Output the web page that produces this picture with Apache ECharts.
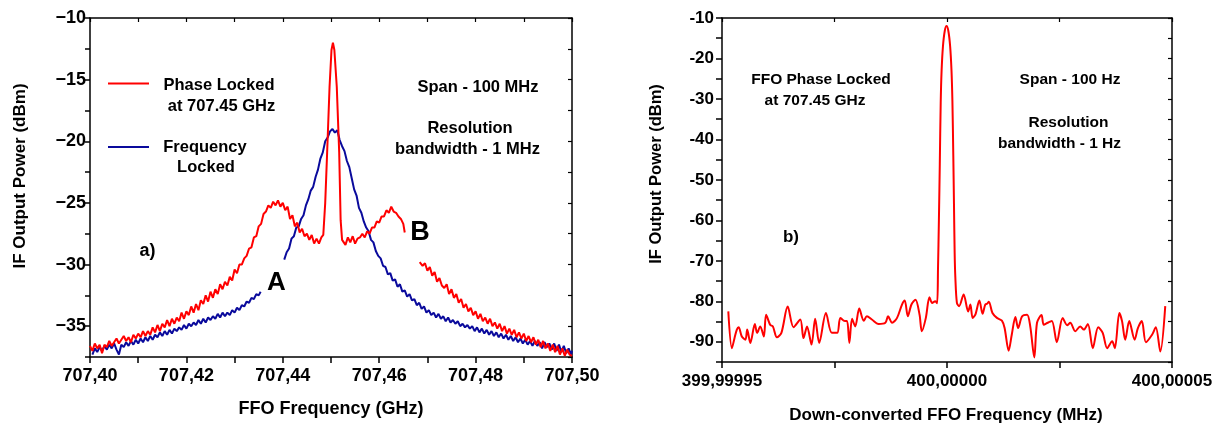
<!DOCTYPE html>
<html>
<head>
<meta charset="utf-8">
<script src="https://cdn.jsdelivr.net/npm/echarts@6/dist/echarts.min.js"></script>
<style>
html,body{margin:0;padding:0;background:#fff;}
#chart{width:1226px;height:425px;}
</style>
</head>
<body>
<div id="chart"></div>
<script>
// ---- Panel a) : FFO frequency (GHz) vs IF output power (dBm)
const phaseLockedA = [
 [707.4000,-36.6],[707.4005,-37.0],[707.4010,-36.4],[707.4015,-36.8],[707.4020,-36.5],[707.4025,-37.2],[707.4030,-36.5],[707.4035,-36.7],[707.4040,-36.2],[707.4045,-36.6],
 [707.4050,-36.3],[707.4055,-36.0],[707.4060,-36.4],[707.4065,-36.1],[707.4070,-35.8],[707.4075,-36.2],[707.4080,-35.9],[707.4085,-36.3],[707.4090,-35.7],[707.4095,-36.0],
 [707.4100,-35.6],[707.4105,-35.9],[707.4110,-35.4],[707.4115,-35.8],[707.4120,-35.4],[707.4125,-35.7],[707.4130,-35.1],[707.4135,-35.5],[707.4140,-34.9],[707.4145,-35.4],
 [707.4150,-34.8],[707.4155,-35.1],[707.4160,-34.5],[707.4165,-35.0],[707.4170,-34.4],[707.4175,-34.8],[707.4180,-34.3],[707.4185,-34.6],[707.4190,-33.9],[707.4195,-34.4],
 [707.4200,-33.8],[707.4205,-34.1],[707.4210,-33.4],[707.4215,-33.9],[707.4220,-33.2],[707.4225,-33.7],[707.4230,-32.9],[707.4235,-33.2],[707.4240,-32.5],[707.4245,-33.0],
 [707.4250,-32.2],[707.4255,-32.7],[707.4260,-32.0],[707.4265,-32.4],[707.4270,-31.6],[707.4275,-32.0],[707.4280,-31.4],[707.4285,-31.7],[707.4290,-31.0],[707.4295,-31.3],
 [707.4300,-30.4],[707.4305,-30.7],[707.4310,-30.0],[707.4315,-30.0],[707.4320,-29.5],[707.4325,-29.3],[707.4330,-28.7],[707.4335,-28.6],[707.4340,-27.8],[707.4345,-27.7],
 [707.4350,-26.9],[707.4355,-26.7],[707.4360,-25.9],[707.4365,-25.7],[707.4370,-25.2],[707.4375,-25.4],[707.4380,-24.9],[707.4385,-25.2],[707.4390,-24.8],[707.4395,-25.3],
 [707.4400,-25.0],[707.4405,-25.6],[707.4410,-25.3],[707.4415,-26.3],[707.4420,-26.0],[707.4425,-26.9],[707.4430,-26.6],[707.4435,-27.4],[707.4440,-27.1],[707.4445,-27.7],
 [707.4450,-27.5],[707.4455,-28.0],[707.4460,-27.6],[707.4465,-28.3],[707.4470,-27.9],[707.4475,-28.3],[707.4480,-27.8],
 [707.4484,-27.6],[707.4488,-25.0],[707.4492,-20.9],[707.4497,-15.6],[707.4501,-12.6],[707.4504,-12.0],[707.4507,-12.6],[707.4512,-15.6],[707.4517,-20.9],[707.4520,-26.4],[707.4523,-28.0],
 [707.4525,-28.0],[707.4530,-28.4],[707.4535,-27.8],[707.4540,-28.2],[707.4545,-27.7],[707.4550,-28.3],[707.4555,-27.9],[707.4560,-27.8],[707.4565,-27.5],[707.4570,-27.8],
 [707.4575,-27.3],[707.4580,-27.5],[707.4585,-27.0],[707.4590,-27.0],[707.4595,-26.5],[707.4600,-26.6],[707.4605,-26.1],[707.4610,-26.1],[707.4615,-25.6],[707.4620,-25.8],
 [707.4625,-25.3],[707.4630,-25.7],[707.4635,-25.8],[707.4640,-26.1],[707.4645,-26.3],[707.4650,-26.7],[707.4653,-27.4],[707.4670,null],
 [707.4684,-29.8],[707.4690,-30.1],[707.4695,-29.9],[707.4700,-30.5],[707.4705,-30.2],[707.4710,-30.9],[707.4715,-30.6],[707.4720,-31.4],[707.4725,-31.1],[707.4730,-31.7],
 [707.4735,-31.9],[707.4740,-31.6],[707.4745,-32.4],[707.4750,-32.0],[707.4755,-32.7],[707.4760,-32.4],[707.4765,-33.1],[707.4770,-32.8],[707.4775,-33.5],[707.4780,-33.2],
 [707.4785,-33.8],[707.4790,-33.5],[707.4795,-34.1],[707.4800,-33.8],[707.4805,-34.4],[707.4810,-34.0],[707.4815,-34.6],[707.4820,-34.3],[707.4825,-34.8],[707.4830,-34.4],
 [707.4835,-35.0],[707.4840,-34.7],[707.4845,-35.2],[707.4850,-34.8],[707.4855,-35.4],[707.4860,-35.0],[707.4865,-35.6],[707.4870,-35.2],[707.4875,-35.7],[707.4880,-35.3],
 [707.4885,-35.9],[707.4890,-35.5],[707.4895,-36.0],[707.4900,-35.6],[707.4905,-36.2],[707.4910,-35.8],[707.4915,-36.3],[707.4920,-35.9],[707.4925,-36.5],[707.4930,-36.1],
 [707.4935,-36.7],[707.4940,-36.2],[707.4945,-36.8],[707.4950,-36.4],[707.4955,-37.0],[707.4960,-36.5],[707.4965,-37.1],[707.4970,-36.6],[707.4975,-37.3],[707.4980,-36.8],
 [707.4985,-37.4],[707.4990,-36.9],[707.4995,-37.3],[707.5000,-37.4]
];
const frequencyLockedA = [
 [707.4005,-37.3],[707.4010,-36.8],[707.4015,-37.1],[707.4020,-36.7],[707.4025,-37.0],[707.4030,-36.6],[707.4035,-36.9],[707.4040,-36.5],[707.4045,-36.8],[707.4050,-36.4],
 [707.4055,-36.9],[707.4060,-37.3],[707.4065,-36.5],[707.4070,-36.7],[707.4075,-36.3],[707.4080,-36.6],[707.4085,-36.2],[707.4090,-36.5],[707.4095,-36.1],[707.4100,-36.4],
 [707.4105,-36.0],[707.4110,-36.3],[707.4115,-35.9],[707.4120,-36.2],[707.4125,-35.8],[707.4130,-36.1],[707.4135,-35.7],[707.4140,-35.9],[707.4145,-35.5],[707.4150,-35.8],
 [707.4155,-35.4],[707.4160,-35.7],[707.4165,-35.3],[707.4170,-35.6],[707.4175,-35.2],[707.4180,-35.4],[707.4185,-35.1],[707.4190,-35.3],[707.4195,-34.9],[707.4200,-35.2],
 [707.4205,-34.8],[707.4210,-35.0],[707.4215,-34.7],[707.4220,-34.9],[707.4225,-34.5],[707.4230,-34.8],[707.4235,-34.4],[707.4240,-34.7],[707.4245,-34.3],[707.4250,-34.5],
 [707.4255,-34.2],[707.4260,-34.4],[707.4265,-34.0],[707.4270,-34.3],[707.4275,-33.9],[707.4280,-34.2],[707.4285,-33.9],[707.4290,-34.1],[707.4295,-33.7],[707.4300,-33.9],
 [707.4305,-33.5],[707.4310,-33.7],[707.4315,-33.3],[707.4320,-33.4],[707.4325,-33.0],[707.4330,-33.1],[707.4335,-32.7],[707.4340,-32.8],[707.4345,-32.4],[707.4350,-32.5],
 [707.4354,-32.2],[707.4370,null],
 [707.4403,-29.6],[707.4408,-29.0],[707.4413,-28.7],[707.4418,-27.9],[707.4423,-27.7],[707.4428,-27.0],[707.4433,-26.9],[707.4438,-26.3],[707.4443,-26.0],[707.4448,-25.2],
 [707.4453,-24.7],[707.4458,-24.0],[707.4463,-23.7],[707.4468,-22.9],[707.4473,-22.3],[707.4478,-21.4],[707.4483,-20.9],[707.4488,-20.0],[707.4493,-19.7],[707.4498,-19.2],
 [707.4503,-19.0],[707.4508,-19.3],[707.4513,-19.1],[707.4518,-19.9],[707.4523,-20.4],[707.4528,-20.8],[707.4533,-21.6],[707.4538,-22.1],[707.4543,-23.0],[707.4548,-23.9],
 [707.4553,-24.4],[707.4558,-25.4],[707.4563,-25.8],[707.4568,-26.5],[707.4573,-27.0],[707.4578,-27.3],[707.4583,-28.0],[707.4588,-28.2],[707.4593,-28.9],[707.4598,-29.3],
 [707.4603,-29.5],[707.4608,-30.1],[707.4613,-30.2],[707.4618,-30.8],[707.4623,-30.7],[707.4628,-31.3],[707.4633,-31.2],[707.4638,-31.8],[707.4643,-31.6],[707.4648,-32.2],
 [707.4653,-32.1],[707.4658,-32.6],[707.4663,-32.4],[707.4668,-32.9],[707.4673,-32.8],[707.4678,-33.3],[707.4683,-33.1],[707.4688,-33.6],[707.4693,-33.4],[707.4698,-33.9],
 [707.4703,-33.7],[707.4708,-34.1],[707.4713,-33.9],[707.4718,-34.3],[707.4723,-34.0],[707.4728,-34.4],[707.4733,-34.2],[707.4738,-34.6],[707.4743,-34.3],[707.4748,-34.7],
 [707.4753,-34.5],[707.4758,-34.8],[707.4763,-34.6],[707.4768,-35.0],[707.4773,-34.8],[707.4778,-35.1],[707.4783,-34.9],[707.4788,-35.2],[707.4793,-35.0],[707.4798,-35.4],
 [707.4803,-35.1],[707.4808,-35.5],[707.4813,-35.2],[707.4818,-35.6],[707.4823,-35.3],[707.4828,-35.7],[707.4833,-35.4],[707.4838,-35.8],[707.4843,-35.5],[707.4848,-35.9],
 [707.4853,-35.6],[707.4858,-36.0],[707.4863,-35.7],[707.4868,-36.1],[707.4873,-35.8],[707.4878,-36.2],[707.4883,-35.9],[707.4888,-36.3],[707.4893,-36.0],[707.4898,-36.4],
 [707.4903,-36.1],[707.4908,-36.5],[707.4913,-36.2],[707.4918,-36.6],[707.4923,-36.2],[707.4928,-36.6],[707.4933,-36.3],[707.4938,-36.8],[707.4943,-36.3],[707.4948,-36.7],
 [707.4953,-36.4],[707.4958,-36.9],[707.4963,-36.4],[707.4968,-37.0],[707.4973,-36.5],[707.4978,-37.1],[707.4983,-36.6],[707.4988,-37.2],[707.4993,-36.8],[707.4998,-37.3],
 [707.5000,-37.0]
];
const xTickLabelsA = ['707,40','707,42','707,44','707,46','707,48','707,50'];

// ---- Panel b) : offset from 400 MHz (Hz) vs IF output power (dBm)
const phaseLockedB = [
 [-48.6,-82.5],[-47.8,-91.6],[-47.2,-89.0],[-46.7,-87.0],[-46.3,-86.4],[-45.6,-88.7],[-44.8,-89.5],[-44.4,-87.0],[-43.7,-90.3],[-42.7,-85.6],
 [-42.2,-87.8],[-41.5,-86.2],[-40.7,-88.7],[-40.2,-83.3],[-39.3,-85.8],[-38.7,-86.2],[-37.8,-88.9],[-36.8,-87.8],[-35.4,-81.3],[-34.1,-86.4],
 [-32.6,-84.5],[-31.9,-89.1],[-31.1,-86.2],[-30.1,-90.7],[-29.3,-84.3],[-28.4,-90.3],[-26.9,-82.9],[-25.6,-87.8],[-24.4,-87.8],[-23.7,-84.1],
 [-22.7,-84.9],[-22.2,-84.9],[-21.7,-90.3],[-21.1,-84.3],[-20.4,-86.2],[-19.5,-81.8],[-18.5,-84.8],[-17.8,-83.7],[-16.7,-84.5],[-15.2,-85.6],
 [-13.7,-85.3],[-13.1,-83.7],[-12.2,-85.3],[-11.1,-84.1],[-10.0,-80.8],[-9.4,-79.8],[-8.7,-83.7],[-7.9,-80.8],[-7.0,-79.6],[-6.1,-83.3],
 [-5.6,-87.4],[-4.7,-84.1],[-3.9,-79.0],[-3.3,-80.4],[-2.6,-80.0],[-2.2,-80.5],
 [-2.0,-72],[-1.8,-60],[-1.6,-46],[-1.4,-31],[-1.2,-23],[-0.9,-17],[-0.5,-13.2],[-0.1,-12.0],[0.3,-13.2],[0.7,-17],[1.0,-23],[1.2,-30.5],[1.4,-44],[1.55,-56],[1.7,-68],[1.85,-74],
 [2.2,-80.4],[2.7,-81.2],[3.7,-78.3],[4.7,-82.5],[5.2,-80.8],[5.7,-84.1],[6.3,-83.3],[7.2,-79.8],[7.9,-83.1],[8.5,-80.8],
 [8.9,-80.6],[9.3,-80.1],[10.1,-82.9],[11.1,-84.1],[12.2,-84.8],[12.8,-86.6],[13.7,-92.2],[14.4,-88.2],[15.2,-83.9],[15.8,-86.6],
 [16.7,-83.7],[17.8,-83.3],[18.5,-86.2],[19.4,-93.9],[20.0,-85.3],[21.0,-83.4],[21.5,-85.8],[22.4,-85.3],[23.3,-84.9],[24.4,-90.1],
 [25.7,-84.1],[26.7,-85.9],[27.4,-85.3],[28.5,-87.4],[29.6,-86.2],[30.4,-87.0],[31.3,-85.6],[32.4,-91.6],[33.6,-86.4],[34.6,-87.8],
 [35.6,-91.6],[36.7,-89.9],[37.3,-91.6],[38.3,-82.9],[38.9,-84.9],[39.6,-89.5],[40.5,-84.9],[41.7,-89.5],[42.4,-86.7],[43.3,-84.9],
 [44.2,-90.1],[45.6,-88.2],[46.4,-86.4],[47.4,-92.4],[48.5,-81.2]
];
const xTickLabelsB = ['399,99995','400,00000','400,00005'];

const FONT = '"Liberation Sans", Arial, Helvetica, sans-serif';
const RED = '#ff0000';
const BLUE = '#0a0a9c';

function axisLineStyle(){ return {show:true, onZero:false, lineStyle:{color:'#000', width:1.5}}; }

const chart = echarts.init(document.getElementById('chart'), null, {renderer:'canvas'});

function txt(text, x, y, size, opts){
  opts = opts || {};
  return {
    type:'text', x:x, y:y, rotation: opts.rotation || 0, silent:true,
    style:{
      text:text, x:0, y:0, fill:'#000',
      font:'bold ' + size + 'px ' + FONT,
      textAlign: opts.align || 'center', align: opts.align || 'center',
      textVerticalAlign:'middle', verticalAlign:'middle'
    }
  };
}

const option = {
  animation:false,
  backgroundColor:'#fff',
  grid:[
    {left:90, top:18, width:482, height:339, containLabel:false},
    {left:722, top:18, width:450, height:344, containLabel:false}
  ],
  xAxis:[
    { gridIndex:0, type:'value', min:707.40, max:707.50, interval:0.01, position:'bottom',
      axisLine:axisLineStyle(), splitLine:{show:false},
      axisTick:{show:true, inside:false, length:6, lineStyle:{color:'#000', width:1.5}},
      axisLabel:{ margin:10, color:'#000', fontFamily:FONT, fontWeight:'bold', fontSize:18,
        showMinLabel:true, showMaxLabel:true,
        formatter:function(v){ const i=Math.round((v-707.40)/0.01); return i%2===0 ? xTickLabelsA[i/2] : ''; } } },
    { gridIndex:0, type:'value', min:707.40, max:707.50, interval:0.01, position:'top',
      axisLine:axisLineStyle(), splitLine:{show:false},
      axisTick:{show:true, inside:true, length:4, lineStyle:{color:'#000', width:1.2}},
      axisLabel:{show:false} },
    { gridIndex:1, type:'value', min:-50, max:50, interval:25, position:'bottom',
      axisLine:axisLineStyle(), splitLine:{show:false},
      axisTick:{show:true, inside:false, length:6, lineStyle:{color:'#000', width:1.5}},
      axisLabel:{ margin:11, color:'#000', fontFamily:FONT, fontWeight:'bold', fontSize:17,
        showMinLabel:true, showMaxLabel:true,
        formatter:function(v){ const i=Math.round((v+50)/25); return i%2===0 ? xTickLabelsB[i/2] : ''; } } },
    { gridIndex:1, type:'value', min:-50, max:50, interval:25, position:'top',
      axisLine:axisLineStyle(), splitLine:{show:false},
      axisTick:{show:true, inside:true, length:4, lineStyle:{color:'#000', width:1.2}},
      axisLabel:{show:false} }
  ],
  yAxis:[
    { gridIndex:0, type:'value', min:-37.5, max:-10, interval:2.5, position:'left',
      axisLine:axisLineStyle(), splitLine:{show:false},
      axisTick:{show:true, inside:false, length:5, lineStyle:{color:'#000', width:1.5}},
      axisLabel:{ margin:4, color:'#000', fontFamily:FONT, fontWeight:'bold', fontSize:18,
        formatter:function(v){ const r=Math.round(v*10)/10; return (Math.abs(r%5)<1e-6) ? String(r).replace('-','\u2212') : ''; } } },
    { gridIndex:0, type:'value', min:-37.5, max:-10, interval:2.5, position:'right',
      axisLine:axisLineStyle(), splitLine:{show:false},
      axisTick:{show:true, inside:true, length:4, lineStyle:{color:'#000', width:1.2}},
      axisLabel:{show:false} },
    { gridIndex:1, type:'value', min:-95, max:-10, interval:5, position:'left',
      axisLine:axisLineStyle(), splitLine:{show:false},
      axisTick:{show:true, inside:false, length:6, lineStyle:{color:'#000', width:1.5}},
      axisLabel:{ margin:8, color:'#000', fontFamily:FONT, fontWeight:'bold', fontSize:17,
        formatter:function(v){ const r=Math.round(v); return (r%10===0) ? String(r) : ''; } } },
    { gridIndex:1, type:'value', min:-95, max:-10, interval:5, position:'right',
      axisLine:axisLineStyle(), splitLine:{show:false},
      axisTick:{show:true, inside:true, length:4, lineStyle:{color:'#000', width:1.2}},
      axisLabel:{show:false} }
  ],
  series:[
    { name:'Frequency Locked', type:'line', xAxisIndex:0, yAxisIndex:0, data:frequencyLockedA,
      showSymbol:false, symbol:'none', connectNulls:false, lineStyle:{color:BLUE, width:2}, z:3 },
    { name:'Phase Locked at 707.45 GHz', type:'line', xAxisIndex:0, yAxisIndex:0, data:phaseLockedA,
      showSymbol:false, symbol:'none', connectNulls:false, lineStyle:{color:RED, width:2}, z:4 },
    { name:'FFO Phase Locked at 707.45 GHz', type:'line', xAxisIndex:2, yAxisIndex:2, data:phaseLockedB,
      showSymbol:false, symbol:'none', smooth:0.3, lineStyle:{color:RED, width:2}, z:4 }
  ],
  graphic:[
    txt('IF Output Power (dBm)', 20, 176, 17, {rotation:Math.PI/2}),
    txt('FFO Frequency (GHz)', 331, 409, 18),
    txt('IF Output Power (dBm)', 656, 174, 16.5, {rotation:Math.PI/2}),
    txt('Down-converted FFO Frequency (MHz)', 946, 415, 17),
    {type:'line', silent:true, shape:{x1:108, y1:83.5, x2:149, y2:83.5}, style:{stroke:RED, lineWidth:2}},
    txt('Phase Locked', 219, 85, 16.5),
    txt('at 707.45 GHz', 221.5, 106, 16.5),
    {type:'line', silent:true, shape:{x1:108, y1:147, x2:149, y2:147}, style:{stroke:BLUE, lineWidth:2}},
    txt('Frequency', 205, 147, 16.5),
    txt('Locked', 206, 167, 16.5),
    txt('Span - 100 MHz', 478, 87, 16.5),
    txt('Resolution', 470, 128, 16.5),
    txt('bandwidth - 1 MHz', 467.5, 149, 16.5),
    txt('a)', 147.5, 251.5, 18),
    txt('A', 276.5, 283, 26),
    txt('B', 420, 233, 27),
    txt('FFO Phase Locked', 821, 80, 15.5),
    txt('at 707.45 GHz', 815, 101, 15.5),
    txt('Span - 100 Hz', 1070, 80, 15.5),
    txt('Resolution', 1068.5, 123, 15.5),
    txt('bandwidth - 1 Hz', 1059.5, 144, 15.5),
    txt('b)', 791, 237, 17)
  ]
};
chart.setOption(option);
</script>
</body>
</html>
